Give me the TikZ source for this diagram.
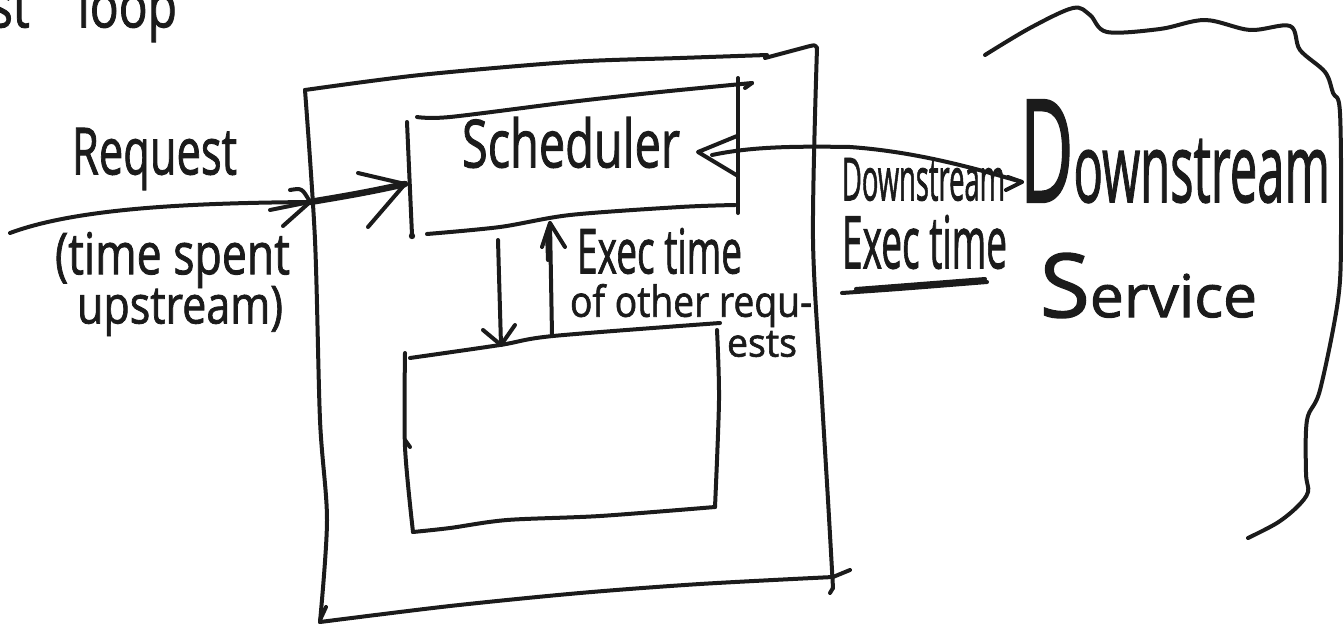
\documentclass[tikz,border=0pt]{standalone}
\usepackage{fontspec}
\usepackage{graphicx}
\setmainfont{Open Sans}[FakeBold=1.6]
\definecolor{ink}{HTML}{1B1B1B}
\tikzset{
  pen/.style={draw=ink, line width=4pt, line cap=round, line join=round},
  heavypen/.style={pen, line width=6.5pt},
  txt/.style={inner sep=0pt, outer sep=0pt, anchor=north west, text=ink},
}
% fit a handwritten-style word into a given ink box (width, total height)
\newcommand{\hw}[3]{\resizebox*{#1pt}{#2pt}{#3}}
% oversized initial capital, as in the hand lettering
\newcommand{\tallinit}[1]{\scalebox{1.5}{#1}}

\begin{document}
\begin{tikzpicture}[x=1pt,y=-1pt]
\useasboundingbox (0,0) rectangle (1344,624);

% ---------- labels ----------
\node[txt] (title)   at (-10,-19) {\hw{187}{61}{st\quad loop}};
\node[txt] (req)     at (72,128)  {\hw{165}{62}{Request}};
\node[txt] (spent)   at (55,232)  {\hw{235}{56}{(time spent}};
\node[txt] (up)      at (77,286)  {\hw{206}{50}{upstream)}};
\node[txt] (sched)   at (462,117) {\hw{218}{51}{Scheduler}};
\node[txt] (exA)     at (577,228) {\hw{165}{46}{Exec time}};
\node[txt] (exB)     at (570,284) {\hw{242}{43}{of other requ-}};
\node[txt] (exC)     at (727,331) {\hw{70}{26}{ests}};
\node[txt] (dsSmall) at (842,158) {\hw{163}{43}{Downstream}};
\node[txt] (dsExec)  at (842,215) {\hw{165}{54}{Exec time}};
\node[txt] (dsBig)   at (1020,100){\hw{310}{103}{\tallinit{D}ownstream}};
\node[txt] (svc)     at (1040,253){\hw{217}{65}{\tallinit{S}ervice}};

% ---------- outer loop box ----------
\coordinate (oTL) at (305,90);
\coordinate (oTR) at (817,48);
\coordinate (oBR) at (833,588);
\coordinate (oBL) at (320,622);
\draw[pen] plot[smooth] coordinates {(oTL) (420,75) (570,62) (680,58) (767,55)};
\draw[pen] (765,58) -- (810,46) .. controls (815,45) .. (oTR);
\draw[pen] plot[smooth] coordinates {(oTR) (813,240) (822,400) (828,500) (oBR)};
\draw[pen] plot[smooth] coordinates {(oBL) (450,606) (580,593) (700,584) (833,577)};
\draw[pen] (833,577) -- (850,570);
\draw[pen] (oBR) -- (830,593);
\draw[pen] plot[smooth] coordinates {(oTL) (315,240) (320,420) (327,520) (oBL)};
\draw[pen] (326,607) -- (320,620);

% ---------- scheduler box ----------
\coordinate (sTL) at (407,122);
\coordinate (sTR) at (738,78);
\coordinate (sBR) at (738,213);
\coordinate (sBL) at (412,235);
\draw[pen] plot[smooth] coordinates {(417,117) (450,117) (570,102) (660,92) (752,83)};
\draw[pen] (752,83) -- (745,88);
\draw[pen] (sTR) -- (sBR);
\draw[pen] plot[smooth] coordinates {(427,234) (500,227) (570,215) (680,207) (735,205)};
\draw[pen] plot[smooth] coordinates {(sTL) (410,190) (sBL)};
\fill[ink] (412,236) circle (3.2pt);

% ---------- worker box ----------
\coordinate (wTL) at (405,353);
\coordinate (wTR) at (717,330);
\coordinate (wBR) at (715,507);
\coordinate (wBL) at (413,532);
\draw[pen] plot[smooth] coordinates {(410,358) (500,345) (553,336) (720,323)};
\draw[pen] plot[smooth] coordinates {(wTL) (405,447) (413,532)};
\draw[pen] (405,440) -- (410,447);
\draw[pen] plot[smooth] coordinates {(wBL) (450,528) (507,520) (600,516) (wBR)};
\draw[pen] plot[smooth] coordinates {(wTR) (719,400) (wBR)};

% ---------- scheduler <-> worker ----------
\coordinate (dnTop) at (498,240);
\coordinate (dnTip) at (501,345);
\draw[pen] (dnTop) -- (dnTip);
\draw[pen] (483,330) -- (dnTip) -- (515,325);
\coordinate (upBot) at (552,335);
\coordinate (upTip) at (550,223);
\draw[pen] (upBot) -- (upTip);
\draw[pen] (548,260) -- (547,232);
\draw[pen] (542,247) -- (upTip) -- (565,247);

% ---------- incoming request ----------
\coordinate (reqStart) at (10,233);
\coordinate (reqMid) at (310,202);
\coordinate (reqTip) at (405,184);
\draw[pen] (reqStart) .. controls (80,207) and (200,203) .. (reqMid);
\draw[heavypen] (reqMid) .. controls (340,197) and (370,192) .. (reqTip);
\draw[pen] (290,190) .. controls (302,188) .. (reqMid) -- (283,226);
\draw[pen] (270,210) -- (reqMid);
\draw[pen] (358,173) -- (reqTip) -- (368,227);

% ---------- scheduler <-> downstream ----------
\coordinate (dsTipL) at (698,152);
\coordinate (dsTipR) at (1022,182);
\draw[pen] (712,155) .. controls (750,147) and (790,146) .. (850,147)
           .. controls (920,152) and (980,170) .. (dsTipR);
\draw[pen] (737,136) -- (dsTipL) -- (738,176);
\draw[pen] (1008,177) -- (dsTipR) -- (1006,190);

% double underline
\draw[pen] (842,293) .. controls (900,289) .. (987,282);
\draw[pen] (856,289) -- (985,279);

% ---------- downstream service outline ----------
\draw[pen] plot[smooth, tension=0.55] coordinates {
  (985,55) (1030,28) (1073,8) (1090,15) (1107,32) (1160,29) (1205,20)
  (1250,30) (1290,26) (1300,50) (1325,72) (1333,93) (1340,113)
  (1341,233) (1338,300) (1320,390) (1307,420) (1306,473) (1308,492)
  (1297,507) (1277,523) (1248,538)};

\end{tikzpicture}
\end{document}
